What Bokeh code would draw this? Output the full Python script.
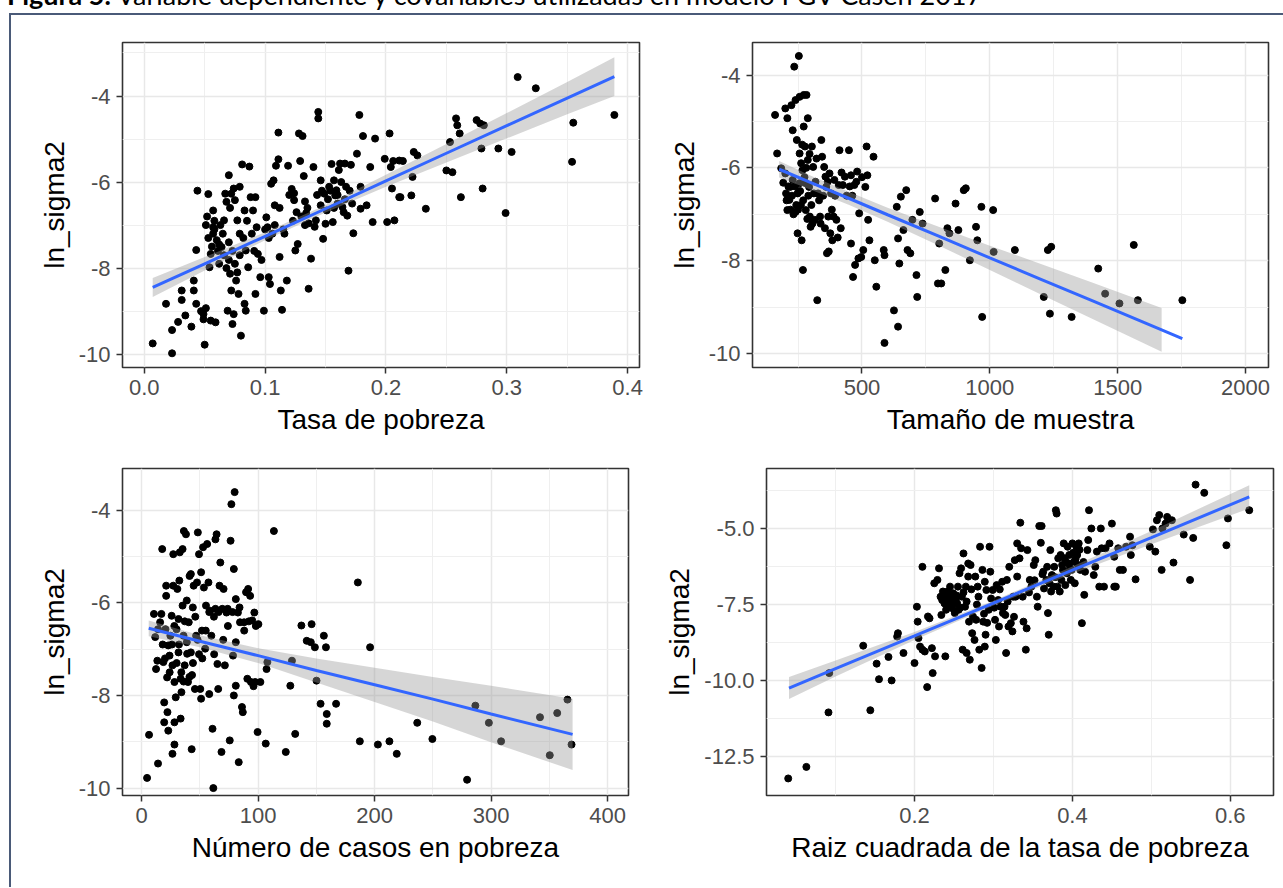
import numpy as np
from bokeh.plotting import figure
from bokeh.models import FixedTicker, Range1d, Div, Spacer, PrintfTickFormatter
from bokeh.layouts import row, column
from bokeh.embed import file_html
from bokeh.resources import INLINE

# ---------------- data ----------------
# Panel 1: Tasa de pobreza vs ln_sigma2
tl_x = [0.007,0.018,0.023,0.023,0.028,0.031,0.031,0.034,0.039,0.041,
        0.041,0.043,0.044,0.043,0.047,0.049,0.050,0.049,0.051,0.052,
        0.053,0.055,0.057,0.059,0.054,0.055,0.057,0.057,0.060,0.062,
        0.064,0.065,0.066,0.067,0.068,0.070,0.070,0.071,0.072,0.069,
        0.074,0.073,0.072,0.074,0.075,0.077,0.079,0.076,0.078,0.080,
        0.081,0.079,0.083,0.084,0.086,0.083,0.084,0.087,0.088,0.090,
        0.092,0.093,0.092,0.094,0.096,0.097,0.099,0.101,0.102,0.103,
        0.104,0.105,0.107,0.108,0.109,0.111,0.111,0.112,0.113,0.114,
        0.116,0.118,0.119,0.122,0.124,0.124,0.125,0.127,0.128,0.131,
        0.129,0.132,0.133,0.134,0.136,0.136,0.138,0.140,0.141,0.142,
        0.144,0.144,0.146,0.146,0.148,0.149,0.150,0.151,0.153,0.155,
        0.156,0.157,0.158,0.159,0.160,0.161,0.162,0.164,0.165,0.166,
        0.167,0.168,0.169,0.171,0.173,0.176,0.178,0.179,0.179,0.181,
        0.184,0.187,0.189,0.191,0.199,0.201,0.203,0.204,0.205,0.207,
        0.211,0.206,0.214,0.211,0.212,0.223,0.226,0.222,0.221,0.233,
        0.250,0.255,0.253,0.258,0.259,0.261,0.262,0.275,0.278,0.281,
        0.279,0.280,0.293,0.299,0.304,0.309,0.324,0.355,0.354,0.389,
        0.051,0.053,0.056,0.058,0.061,0.063,0.058,0.062,0.066,0.068,
        0.070,0.071,0.073,0.075,0.077,0.079,0.082,0.085,0.089,0.091,
        0.100,0.103,0.106,0.108,0.112,0.115,0.120,0.123,0.126,0.130,
        0.133,0.135,0.143,0.147,0.152,0.154,0.157,0.160,0.163,0.166,
        0.170,0.172]
tl_y = [-9.75,-8.83,-9.98,-9.44,-9.25,-8.74,-8.52,-9.10,-9.36,-8.52,
        -8.29,-7.58,-6.20,-8.83,-9.00,-9.07,-9.78,-9.19,-8.93,-6.80,
        -6.28,-9.22,-6.66,-9.26,-7.98,-7.67,-7.20,-7.05,-7.35,-7.45,
        -7.51,-7.20,-6.89,-6.27,-6.46,-5.84,-7.81,-8.13,-8.52,-8.99,
        -9.07,-9.30,-6.27,-6.15,-6.42,-6.89,-7.20,-8.29,-8.60,-9.57,
        -5.59,-6.11,-6.66,-7.59,-7.98,-8.83,-8.99,-5.64,-6.35,-6.66,
        -6.35,-7.05,-8.60,-7.67,-8.21,-7.81,-8.99,-6.82,-7.05,-8.21,
        -8.37,-6.04,-5.96,-6.54,-5.62,-5.47,-4.85,-7.74,-8.52,-8.97,
        -7.20,-8.29,-5.62,-6.16,-6.26,-6.42,-7.59,-7.44,-4.87,-4.93,
        -5.51,-5.86,-6.45,-6.72,-6.96,-8.48,-7.78,-5.65,-7.04,-6.89,
        -4.37,-4.52,-5.96,-6.54,-7.32,-6.27,-6.97,-6.66,-6.11,-5.58,
        -6.93,-5.96,-6.31,-6.19,-6.50,-5.72,-5.57,-6.58,-6.70,-5.57,
        -6.11,-6.78,-8.06,-5.60,-7.19,-5.34,-4.44,-6.11,-6.62,-4.93,
        -6.54,-5.65,-6.93,-4.99,-5.46,-6.93,-4.87,-5.65,-6.15,-6.89,
        -6.35,-5.51,-5.51,-5.50,-6.35,-5.30,-5.38,-5.88,-6.31,-6.62,
        -5.73,-5.77,-5.07,-4.52,-4.68,-4.87,-6.35,-4.56,-4.64,-4.68,
        -5.22,-6.15,-5.22,-6.72,-5.30,-3.56,-3.82,-4.62,-5.53,-4.44,
        -7.00,-7.30,-7.50,-7.10,-7.60,-7.00,-6.90,-7.90,-7.70,-8.00,
        -7.40,-6.60,-7.60,-7.90,-8.10,-7.70,-7.30,-6.90,-7.20,-7.60,
        -7.10,-7.30,-7.20,-7.00,-6.60,-7.10,-6.30,-6.90,-6.70,-6.80,
        -7.00,-6.60,-6.30,-6.20,-6.40,-6.20,-6.60,-6.30,-6.00,-6.40,
        -6.20,-6.50]
tl_fit_x = [0.007, 0.05, 0.10, 0.15, 0.20, 0.25, 0.30, 0.35, 0.389]
tl_fit_y = [-8.45, -7.90, -7.26, -6.62, -5.97, -5.33, -4.69, -4.05, -3.55]
tl_fit_hw = [0.22, 0.156, 0.094, 0.087, 0.141, 0.215, 0.294, 0.375, 0.45]

# Panel 2: Tamaño de muestra vs ln_sigma2
tr_x = [160,168,184,192,200,200,208,203,208,216,
        219,224,229,229,235,240,240,245,248,248,
        253,256,256,256,261,264,267,269,272,272,
        277,280,280,283,288,288,293,296,299,304,
        309,312,315,325,328,336,341,344,352,357,
        360,363,368,373,376,379,384,389,392,400,
        409,412,417,425,433,449,457,457,465,470,
        473,481,486,489,497,505,513,518,521,524,
        529,545,550,556,585,588,625,636,641,641,
        646,588,652,662,673,678,689,697,713,716,
        726,737,786,802,797,810,826,834,842,866,
        877,898,906,922,946,951,967,970,1013,1015,
        1098,1211,1227,1235,1240,1320,1424,1451,1507,1563,
        1579,1753,
        205,212,220,226,232,238,243,250,258,262,
        266,270,275,282,286,290,295,302,306,318,
        322,332,338,348,355,366,370,382,395,405,
        420,440,452,462,478,500]
tr_y = [-4.86,-5.69,-6.01,-6.32,-6.12,-4.72,-4.93,-6.55,-6.91,-6.69,
        -6.41,-4.65,-5.19,-6.26,-3.82,-4.54,-6.95,-5.40,-6.55,-7.41,
        -3.59,-4.47,-5.69,-6.33,-6.80,-7.56,-6.05,-8.20,-4.43,-5.11,
        -5.54,-6.33,-6.91,-4.43,-4.93,-5.83,-6.41,-7.05,-7.27,-5.54,
        -5.98,-6.55,-7.12,-8.85,-6.55,-7.05,-5.40,-5.76,-5.98,-6.19,
        -6.41,-7.84,-7.05,-6.12,-7.41,-6.55,-7.56,-7.05,-6.26,-7.12,
        -6.37,-5.62,-7.30,-6.37,-6.19,-5.62,-6.16,-7.63,-8.35,-6.37,
        -8.09,-6.08,-7.95,-6.98,-7.92,-7.77,-6.41,-5.54,-6.16,-7.12,
        -7.56,-5.76,-7.99,-8.56,-7.77,-7.88,-9.07,-6.84,-7.52,-9.42,
        -8.06,-9.77,-6.62,-7.34,-6.48,-7.77,-7.84,-7.12,-8.31,-8.78,
        -6.95,-7.20,-6.66,-7.63,-8.49,-8.49,-8.20,-7.30,-7.41,-6.77,
        -7.34,-6.48,-6.44,-7.99,-7.27,-7.56,-6.84,-9.21,-6.91,-7.81,
        -7.77,-8.78,-7.77,-9.14,-7.70,-9.21,-8.17,-8.71,-8.92,-7.66,
        -8.85,-8.85,
        -6.70,-6.40,-6.90,-6.60,-7.00,-6.40,-6.80,-6.90,-6.50,-5.90,
        -5.50,-6.70,-6.20,-6.00,-7.10,-6.60,-5.70,-6.80,-7.20,-6.30,
        -5.80,-6.70,-7.20,-6.60,-7.30,-6.30,-7.80,-6.90,-6.60,-7.50,
        -6.10,-6.60,-6.40,-6.60,-6.30,-6.20]
tr_fit_x = [176, 300, 450, 600, 800, 1000, 1200, 1400, 1672, 1753]
tr_fit_y = [-6.03, -6.32, -6.66, -7.01, -7.47, -7.94, -8.40, -8.86, -9.49, -9.68]
tr_band_x = [176, 300, 450, 600, 800, 1000, 1200, 1400, 1672]
tr_band_hw = [0.18, 0.15, 0.14, 0.15, 0.20, 0.26, 0.33, 0.39, 0.47]

# Panel 3: Número de casos en pobreza vs ln_sigma2
bl_x = [4.6,6.3,14,10.5,11.6,12.3,13.4,14,15.8,16.9,
        17.6,18.6,19.3,19.3,20.4,21,21,21.8,22.1,22.8,
        22.8,23.9,24.6,25.7,26.4,27.1,27.1,28.1,28.1,28.1,
        26.4,29.2,29.9,30.6,31.6,31.6,32.3,32.7,33.4,33.4,
        34.1,35.1,35.1,35.9,36.2,36.9,38,38.7,38.7,39.7,
        40.4,41.1,42.2,42.2,42.9,43.2,43.9,44.6,45.7,46.7,
        47.5,48.2,49.2,49.2,50.3,51,51,51.7,52.7,53.4,
        54.5,55.2,56.2,57.3,58,58.7,59.8,60.8,61.5,62.2,
        63.3,63.3,64.3,65,65.7,66.8,67.5,68.5,69.2,70.3,
        71.4,72.8,73.8,75.6,76.3,77,78.4,79.1,79.1,79.8,
        80.8,80.8,80.8,82.6,83.3,84.4,86.1,86.8,87.9,89.6,
        91.4,90.7,93.1,93.8,94.9,96.7,97.4,99.5,100.2,101.9,
        106.5,107.2,107.9,113.5,123.7,127.6,129,131.8,137.1,141.7,
        145.2,145.9,148.7,150.1,153.6,156.4,158.2,158.9,158.9,166.9,
        185.6,187.3,196.1,202.8,212.7,219,236.6,249.6,279.4,286.5,
        298.1,308.6,342,350.4,356.8,365.6,369.1,
        18,20,24,26,28,30,32,34,36,37,
        39,41,44,46,48,52,55,58,62,66,
        70,74,78,84,88,92,96,98]
bl_y = [-9.78,-8.85,-9.47,-6.24,-6.74,-7.43,-7.25,-6.57,-6.42,-6.24,
        -4.84,-7.28,-8.15,-8.58,-6.57,-5.85,-5.63,-7.61,-8.36,-8.76,
        -6.92,-7.14,-6.71,-6.28,-7.35,-5.63,-4.95,-7.71,-8.58,-9.06,
        -9.26,-8.04,-6.57,-5.70,-7.07,-6.35,-5.52,-4.91,-7.64,-8.50,
        -7.93,-4.84,-6.06,-6.71,-4.45,-7.35,-4.52,-5.95,-6.85,-7.71,
        -6.42,-5.42,-7.07,-5.38,-9.16,-7.56,-6.10,-5.63,-7.86,-6.71,
        -5.56,-4.48,-7.11,-4.95,-7.86,-5.34,-8.07,-6.60,-4.80,-5.67,
        -6.99,-6.06,-4.73,-5.56,-7.97,-6.17,-6.71,-8.72,-10.0,-7.11,
        -4.63,-6.13,-4.52,-7.32,-7.86,-5.63,-5.13,-9.22,-6.13,-5.70,
        -7.35,-6.21,-6.13,-8.97,-4.66,-3.87,-7.14,-5.27,-8.00,-3.61,
        -6.85,-5.92,-7.79,-6.21,-9.44,-6.42,-8.25,-8.36,-6.42,-5.77,
        -5.70,-7.64,-5.85,-7.71,-6.38,-6.21,-7.71,-8.79,-6.46,-7.71,
        -9.04,-7.43,-7.28,-4.45,-9.22,-7.79,-7.25,-8.83,-6.49,-6.82,
        -6.85,-6.46,-6.96,-7.68,-8.18,-6.71,-6.96,-8.40,-8.61,-8.18,
        -5.56,-8.99,-6.96,-9.06,-8.99,-9.26,-8.59,-8.94,-9.82,-8.22,
        -8.59,-8.99,-8.47,-9.29,-8.38,-8.09,-9.06,
        -6.90,-7.20,-7.50,-6.90,-6.50,-7.30,-6.90,-7.50,-7.70,-6.40,
        -7.10,-7.60,-7.30,-6.30,-6.80,-7.20,-6.60,-6.20,-6.30,-6.20,
        -6.80,-6.50,-6.20,-6.10,-6.60,-6.40,-7.80,-6.50]
bl_fit_x = [6, 50, 100, 150, 200, 250, 300, 370]
bl_fit_y = [-6.55, -6.83, -7.14, -7.46, -7.77, -8.08, -8.40, -8.84]
bl_fit_hw = [0.17, 0.13, 0.16, 0.26, 0.37, 0.48, 0.61, 0.77]

# Panel 4: Raiz cuadrada de la tasa de pobreza vs ln_sigma2
br_x = [0.040,0.063,0.091,0.092,0.135,0.144,0.152,0.155,0.167,0.171,
        0.178,0.179,0.186,0.200,0.203,0.204,0.205,0.207,0.210,0.210,
        0.213,0.216,0.217,0.219,0.222,0.223,0.225,0.226,0.229,0.231,
        0.233,0.234,0.235,0.236,0.238,0.239,0.240,0.242,0.243,0.244,
        0.245,0.247,0.248,0.249,0.251,0.252,0.254,0.255,0.256,0.257,
        0.259,0.260,0.261,0.262,0.264,0.265,0.266,0.268,0.268,0.269,
        0.270,0.271,0.273,0.274,0.276,0.277,0.278,0.280,0.281,0.282,
        0.283,0.285,0.286,0.287,0.289,0.289,0.290,0.291,0.294,0.295,
        0.296,0.299,0.302,0.303,0.304,0.306,0.307,0.309,0.311,0.312,
        0.314,0.315,0.316,0.317,0.319,0.320,0.322,0.324,0.325,0.327,
        0.328,0.330,0.330,0.333,0.334,0.335,0.337,0.338,0.341,0.342,
        0.343,0.346,0.348,0.351,0.353,0.355,0.356,0.358,0.360,0.361,
        0.363,0.364,0.367,0.368,0.369,0.370,0.372,0.373,0.374,0.376,
        0.377,0.379,0.380,0.381,0.382,0.384,0.385,0.386,0.388,0.389,
        0.390,0.391,0.393,0.394,0.395,0.396,0.398,0.399,0.400,0.402,
        0.403,0.405,0.406,0.407,0.408,0.410,0.412,0.415,0.416,0.419,
        0.420,0.421,0.424,0.427,0.429,0.431,0.434,0.436,0.437,0.440,
        0.442,0.447,0.450,0.453,0.455,0.453,0.458,0.460,0.464,0.468,
        0.473,0.474,0.476,0.480,0.498,0.502,0.505,0.507,0.510,0.513,
        0.514,0.518,0.520,0.526,0.528,0.541,0.549,0.553,0.556,0.567,
        0.595,0.597,0.624,
        0.238,0.241,0.244,0.246,0.250,0.253,0.258,0.262,0.266,0.272,
        0.279,0.288,0.292,0.297,0.301,0.308,0.318,0.326,0.345,0.352,
        0.362,0.371,0.378,0.387,0.392,0.397,0.401,0.404,0.409,0.414]
br_y = [-13.21,-12.83,-11.04,-9.75,-8.85,-10.97,-9.44,-9.95,-9.22,-9.99,
        -8.55,-8.44,-9.09,-9.42,-7.57,-8.06,-8.60,-8.88,-6.26,-8.98,
        -9.04,-10.21,-7.89,-7.95,-8.93,-9.75,-6.80,-9.20,-6.69,-6.31,
        -7.24,-7.84,-7.35,-7.07,-7.46,-9.20,-7.67,-7.07,-7.35,-7.51,
        -6.91,-7.24,-7.62,-7.13,-7.78,-7.35,-7.46,-6.91,-7.67,-6.47,
        -6.31,-7.24,-8.98,-5.82,-7.57,-6.91,-9.09,-6.58,-6.15,-8.06,
        -9.31,-6.20,-8.44,-7.89,-8.66,-6.58,-8.00,-6.91,-7.24,-8.98,
        -5.60,-9.58,-6.36,-8.06,-6.75,-8.88,-8.49,-7.02,-7.67,-5.60,
        -6.42,-7.02,-8.00,-8.66,-6.86,-7.35,-8.22,-7.57,-6.75,-7.78,
        -7.57,-7.84,-9.09,-6.69,-8.22,-6.26,-8.11,-8.38,-7.24,-6.04,
        -7.24,-5.49,-6.58,-5.98,-4.81,-5.65,-7.24,-8.06,-8.98,-8.28,
        -5.71,-6.69,-6.91,-6.20,-6.04,-7.24,-7.57,-4.92,-5.47,-4.92,
        -6.42,-6.97,-6.69,-6.26,-7.78,-8.49,-5.71,-7.07,-6.53,-6.91,
        -6.26,-4.40,-4.51,-6.91,-5.98,-7.07,-5.87,-6.69,-6.36,-5.49,
        -5.98,-6.86,-6.47,-5.60,-6.15,-5.87,-6.69,-6.36,-5.49,-6.09,
        -6.80,-5.60,-5.87,-6.20,-5.49,-6.36,-8.11,-7.18,-6.42,-5.71,
        -5.38,-4.40,-5.00,-6.53,-6.26,-5.76,-6.91,-5.00,-5.65,-6.91,
        -5.65,-5.49,-4.84,-6.91,-6.91,-5.93,-5.65,-6.36,-6.36,-5.60,
        -5.27,-5.87,-5.55,-6.67,-5.60,-5.03,-5.76,-4.73,-4.56,-6.36,
        -5.00,-4.84,-4.62,-4.73,-6.12,-5.20,-6.69,-5.31,-3.56,-3.83,
        -5.55,-4.67,-4.40,
        -7.25,-7.40,-7.15,-7.50,-7.30,-7.20,-7.60,-7.10,-7.40,-7.00,
        -7.50,-7.80,-8.10,-7.30,-7.60,-7.00,-7.40,-7.90,-7.10,-6.70,
        -6.50,-6.80,-6.60,-6.20,-6.10,-6.30,-5.80,-6.00,-5.70,-6.10]
br_fit_x = [0.041, 0.10, 0.20, 0.30, 0.40, 0.50, 0.624]
br_fit_y = [-10.24, -9.60, -8.53, -7.45, -6.37, -5.30, -3.96]
br_fit_hw = [0.36, 0.26, 0.13, 0.08, 0.12, 0.22, 0.38]

y_title = "ln_sigma2"
x_titles = ["Tasa de pobreza", "Tamaño de muestra",
            "Número de casos en pobreza", "Raiz cuadrada de la tasa de pobreza"]
fig_caption_bold = "Figura 5."
fig_caption = "Variable dependiente y covariables utilizadas en modelo FGV Casen 2017"

FONT = "Liberation Sans"


def panel(px, py, fx, fy, bx, blo, bhi, xr, yr, xt, xm, yt, ym, xf, yf,
          xlabel, fw, fh, ml, mr, mt, mb):
    p = figure(width=ml + fw + mr, height=mt + fh + mb,
               frame_width=fw, frame_height=fh,
               min_border_left=ml, min_border_right=mr,
               min_border_top=mt, min_border_bottom=mb,
               x_range=Range1d(*xr), y_range=Range1d(*yr),
               output_backend="svg", toolbar_location=None)
    p.background_fill_color = "white"
    p.border_fill_color = "white"
    p.outline_line_color = "#333333"
    p.outline_line_width = 1.6

    p.xaxis.ticker = FixedTicker(ticks=xt, minor_ticks=xm)
    p.yaxis.ticker = FixedTicker(ticks=yt, minor_ticks=ym)
    p.xaxis.formatter = PrintfTickFormatter(format=xf)
    p.yaxis.formatter = PrintfTickFormatter(format=yf)
    for ax in (p.xaxis, p.yaxis):
        ax.axis_line_color = None
        ax.major_tick_in = 0
        ax.major_tick_out = 6
        ax.major_tick_line_color = "#333333"
        ax.major_tick_line_width = 1.5
        ax.minor_tick_line_color = None
        ax.major_label_text_font = FONT
        ax.major_label_text_font_size = "22px"
        ax.major_label_text_color = "#4d4d4d"
        ax.major_label_standoff = 6
        ax.axis_label_text_font = FONT
        ax.axis_label_text_font_size = "28px"
        ax.axis_label_text_font_style = "normal"
        ax.axis_label_text_color = "black"
        ax.axis_label_standoff = 6
    p.xaxis.axis_label = xlabel
    p.yaxis.axis_label = y_title

    for g in (p.xgrid, p.ygrid):
        g.grid_line_color = "#e8e8e8"
        g.grid_line_width = 1.5
        g.minor_grid_line_color = "#efefef"
        g.minor_grid_line_width = 1.0

    p.scatter(px, py, size=7, color="black")
    p.varea(x=bx, y1=blo, y2=bhi, fill_color="#999999", fill_alpha=0.4)
    p.line(fx, fy, line_color="#3366FF", line_width=3)
    return p


def band(fx, fy, hw):
    fy = np.asarray(fy, dtype=float)
    hw = np.asarray(hw, dtype=float)
    return list(fx), list(fy - hw), list(fy + hw)


bx1, lo1, hi1 = band(tl_fit_x, tl_fit_y, tl_fit_hw)
p1 = panel(tl_x, tl_y, tl_fit_x, tl_fit_y, bx1, lo1, hi1,
           (-0.018, 0.4098), (-10.31, -2.756),
           [0.0, 0.1, 0.2, 0.3, 0.4], [0.05, 0.15, 0.25, 0.35],
           [-10, -8, -6, -4], [-9, -7, -5, -3], "%.1f", "%d",
           x_titles[0], 517, 325, 111, 22, 27, 83)

tr_band_fit = np.interp(tr_band_x, tr_fit_x, tr_fit_y)
bx2, lo2, hi2 = band(tr_band_x, tr_band_fit, tr_band_hw)
p2 = panel(tr_x, tr_y, tr_fit_x, tr_fit_y, bx2, lo2, hi2,
           (71.7, 2090), (-10.30, -3.30),
           [500, 1000, 1500, 2000], [250, 750, 1250, 1750],
           [-10, -8, -6, -4], [-9, -7, -5], "%d", "%d",
           x_titles[1], 516, 325, 91, 15, 27, 83)

bx3, lo3, hi3 = band(bl_fit_x, bl_fit_y, bl_fit_hw)
p3 = panel(bl_x, bl_y, bl_fit_x, bl_fit_y, bx3, lo3, hi3,
           (-16.5, 418), (-10.16, -3.10),
           [0, 100, 200, 300, 400], [50, 150, 250, 350],
           [-10, -8, -6, -4], [-9, -7, -5], "%d", "%d",
           x_titles[2], 506, 327, 111, 33, 18, 92)

bx4, lo4, hi4 = band(br_fit_x, br_fit_y, br_fit_hw)
p4 = panel(br_x, br_y, br_fit_x, br_fit_y, bx4, lo4, hi4,
           (0.0125, 0.6547), (-13.77, -3.03),
           [0.2, 0.4, 0.6], [0.1, 0.3, 0.5],
           [-12.5, -10.0, -7.5, -5.0], [-11.25, -8.75, -6.25, -3.75], "%.1f", "%.1f",
           x_titles[3], 507, 327, 100, 15, 18, 92)

title = Div(
    text=('<div style="position:relative;top:-21px;left:7px;white-space:nowrap;'
          'font-family:Lato;font-size:27px;color:#000;line-height:1.2;">'
          '<b>%s</b> %s</div>' % (fig_caption_bold, fig_caption)),
    width=1283, height=13, margin=0)

body = column(row(p1, p2, spacing=0), row(p3, p4, spacing=0), spacing=0,
              styles={"border-left": "2px solid #4a5a78",
                      "border-top": "2px solid #4a5a78"})
page = column(title, row(Spacer(width=9, height=874), body, spacing=0), spacing=0)

open("out.html", "w").write(file_html(page, INLINE))
